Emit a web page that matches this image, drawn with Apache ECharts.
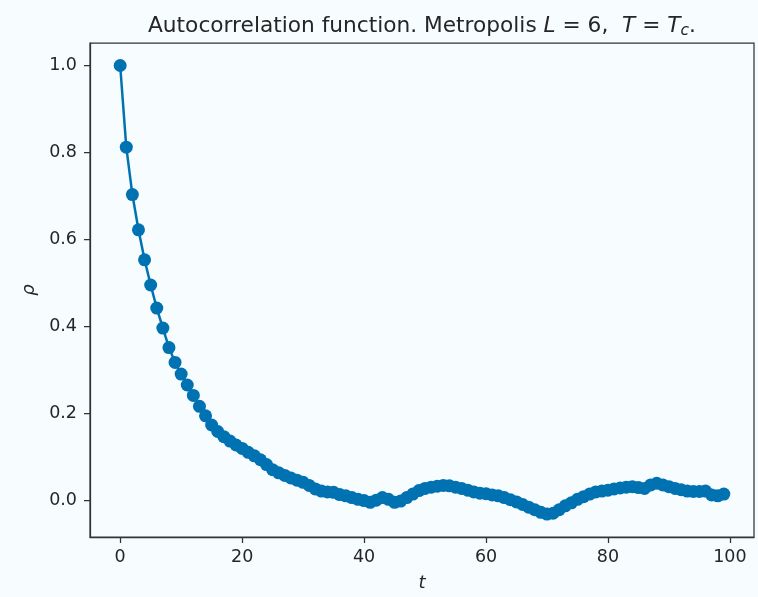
<!DOCTYPE html>
<html>
<head>
<meta charset="utf-8">
<script src="https://cdn.jsdelivr.net/npm/echarts@6/dist/echarts.min.js"></script>
<style>
html,body{margin:0;padding:0;background:#f7fcfe;}
#chart{width:758px;height:597px;}
</style>
</head>
<body>
<div id="chart"></div>
<script>
var lags = [];
for (var i = 0; i < 100; i++) lags.push(i);
var rho = [
 1.000, 0.812, 0.703, 0.622, 0.553, 0.495, 0.442, 0.396, 0.351, 0.317,
 0.290, 0.265, 0.241, 0.216, 0.194, 0.173, 0.158, 0.146, 0.136, 0.127,
 0.119, 0.110, 0.102, 0.093, 0.082, 0.070, 0.063, 0.057, 0.051, 0.046,
 0.041, 0.034, 0.026, 0.021, 0.019, 0.018, 0.013, 0.010, 0.006, 0.002,
 -0.001, -0.005, 0.000, 0.006, 0.002, -0.005, -0.002, 0.006, 0.014, 0.022,
 0.027, 0.030, 0.032, 0.034, 0.033, 0.030, 0.027, 0.023, 0.019, 0.016,
 0.015, 0.012, 0.010, 0.006, 0.001, -0.004, -0.010, -0.016, -0.022, -0.028,
 -0.032, -0.030, -0.022, -0.013, -0.006, 0.002, 0.008, 0.014, 0.019, 0.021,
 0.023, 0.026, 0.028, 0.030, 0.031, 0.029, 0.027, 0.035, 0.039, 0.035,
 0.031, 0.027, 0.024, 0.021, 0.020, 0.020, 0.021, 0.012, 0.010, 0.014
];
var xTicks = [0, 20, 40, 60, 80, 100];
var yTicks = [0, 0.2, 0.4, 0.6, 0.8, 1.0];

var points = lags.map(function (t, i) { return [t, rho[i]]; });
var chart = echarts.init(document.getElementById('chart'));
var font = 'DejaVu Sans';
var textColor = '#262626';
chart.setOption({
  backgroundColor: '#f7fcfe',
  animation: false,
  title: {
    text: 'Autocorrelation function. Metropolis {i|L} = 6,  {i|T} = {i|T}{sub|c}.',
    left: 417,
    top: 9,
    textAlign: 'center',
    textStyle: {
      fontFamily: font, fontSize: 21.7, fontWeight: 'normal', color: textColor,
      rich: {
        i: { fontFamily: font, fontSize: 21.7, fontStyle: 'italic', color: textColor },
        sub: { fontFamily: font, fontSize: 15.5, fontStyle: 'italic', color: textColor, padding: [9, 0, 0, 0] }
      }
    }
  },
  grid: {
    left: 90, right: 4, top: 43, bottom: 57.5,
    show: true, borderColor: '#333333', borderWidth: 1.25, backgroundColor: '#f7fcfe'
  },
  xAxis: {
    type: 'value',
    min: -4.95, max: 103.95,
    name: 't', nameLocation: 'middle', nameGap: 37,
    nameTextStyle: { fontFamily: font, fontSize: 18, fontStyle: 'italic', color: textColor },
    axisLine: { show: true, onZero: false, lineStyle: { color: '#333333', width: 1.25 } },
    axisTick: { show: true, inside: false, length: 6, customValues: xTicks, lineStyle: { color: '#333333', width: 1.25 } },
    axisLabel: { customValues: xTicks, margin: 11, fontFamily: font, fontSize: 17.5, color: textColor },
    splitLine: { show: false }
  },
  yAxis: {
    type: 'value',
    min: -0.0847, max: 1.0517,
    name: 'ρ', nameLocation: 'middle', nameGap: 52, nameRotate: 90,
    nameTextStyle: { fontFamily: font, fontSize: 18, fontStyle: 'italic', color: textColor },
    axisLine: { show: true, onZero: false, lineStyle: { color: '#333333', width: 1.25 } },
    axisTick: { show: true, inside: false, length: 6, customValues: yTicks, lineStyle: { color: '#333333', width: 1.25 } },
    axisLabel: { customValues: yTicks, margin: 13, fontFamily: font, fontSize: 17.5, color: textColor,
      formatter: function (v) { return v.toFixed(1); } },
    splitLine: { show: false }
  },
  series: [{
    type: 'line',
    data: points,
    symbol: 'circle',
    symbolSize: 13,
    showSymbol: true,
    lineStyle: { color: '#0072B2', width: 2.5 },
    itemStyle: { color: '#0072B2' },
    clip: false
  }]
});
</script>
</body>
</html>
